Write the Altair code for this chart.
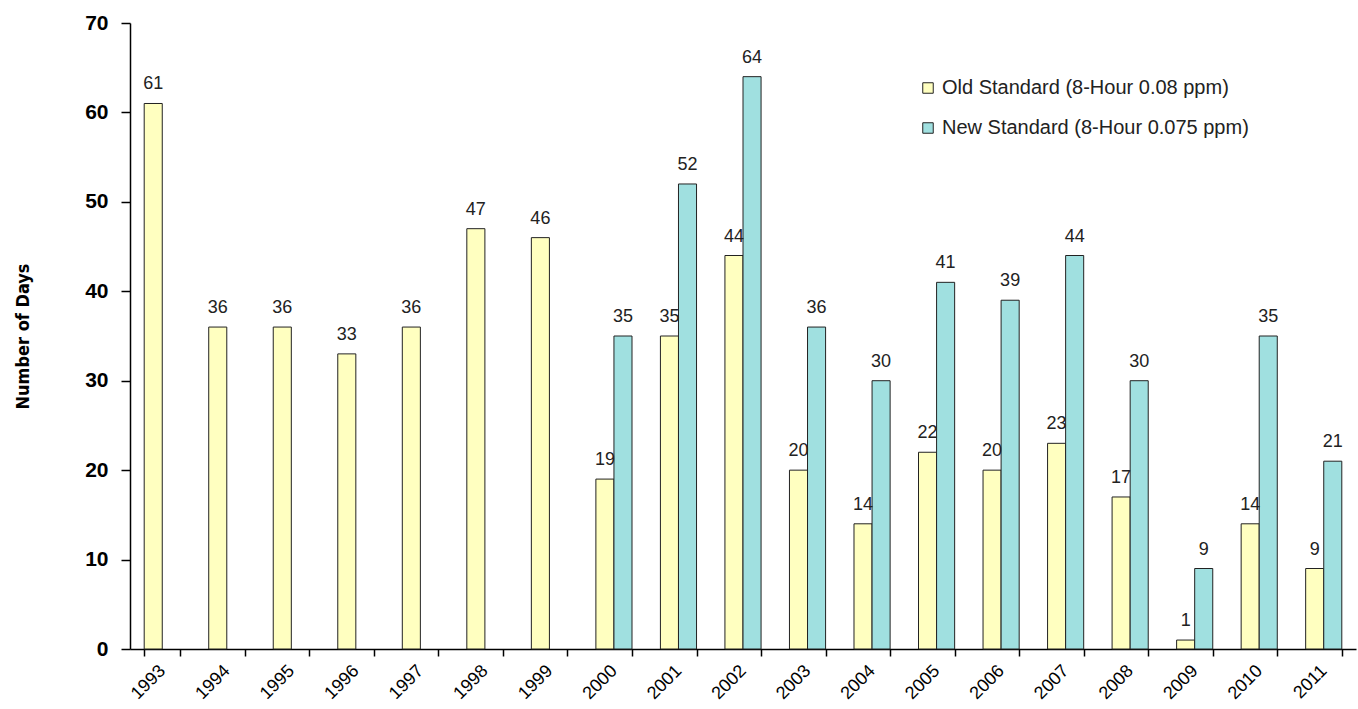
import altair as alt
import pandas as pd

years = [str(y) for y in range(1993, 2012)]
old_vals = [61, 36, 36, 33, 36, 47, 46, 19, 35, 44, 20, 14, 22, 20, 23, 17, 1, 14, 9]
new_years = [str(y) for y in range(2000, 2012)]
new_vals = [35, 52, 64, 36, 30, 41, 39, 44, 30, 9, 35, 21]

series_names = ["Old Standard (8-Hour 0.08 ppm)", "New Standard (8-Hour 0.075 ppm)"]
colors = ["#FFFFC0", "#A0E0E0"]

rows = [{"Year": y, "Series": series_names[0], "Days": v} for y, v in zip(years, old_vals)]
rows += [{"Year": y, "Series": series_names[1], "Days": v} for y, v in zip(new_years, new_vals)]
df = pd.DataFrame(rows)

base = alt.Chart(df).encode(
    x=alt.X("Year:N", sort=years,
            scale=alt.Scale(paddingInner=0.44, paddingOuter=0.22),
            axis=alt.Axis(title=None, labelAngle=-45, labelAlign="right", labelBaseline="middle",
                          labelFontSize=18, labelColor="#000", labelFont="Liberation Sans",
                          tickBand="extent", tickColor="#000", tickSize=7, domainColor="#000",
                          labelPadding=12)),
    xOffset=alt.XOffset("Series:N", sort=series_names),
    y=alt.Y("Days:Q", scale=alt.Scale(domain=[0, 70], nice=False),
            axis=alt.Axis(title="Number of Days", values=list(range(0, 71, 10)), grid=False,
                          labelFontSize=21, labelFontWeight="bold", labelColor="#000",
                          labelFont="Liberation Sans", tickColor="#000", tickSize=9,
                          domainColor="#000", labelPadding=13,
                          titleFont="DejaVu Sans Condensed, Liberation Sans", titleFontSize=18,
                          titleFontWeight="bold", titleColor="#000", titlePadding=52)),
)

bars = base.mark_bar(stroke="#222", strokeWidth=1).encode(
    color=alt.Color("Series:N", sort=series_names,
                    scale=alt.Scale(domain=series_names, range=colors),
                    legend=alt.Legend(title=None, orient="none", legendX=788, legendY=55,
                                      symbolType="square", symbolSize=110, symbolStrokeColor="#222",
                                      symbolStrokeWidth=1, labelFontSize=20, labelColor="#222",
                                      labelFont="Liberation Sans", rowPadding=20, labelLimit=500))
)

labels = base.mark_text(baseline="alphabetic", dy=-14, fontSize=18, color="#222",
                        font="Liberation Sans").encode(text="Days:Q")

chart = alt.layer(bars, labels).properties(
    width=1226, height=626,
    autosize=alt.AutoSizeParams(type="none"),
    padding={"left": 130, "top": 23, "right": 2, "bottom": 60},
).configure_view(stroke=None).configure_axis(domainWidth=1.5, tickWidth=1.5)

chart.save("out.html", embed_options={"renderer": "svg", "actions": False})
